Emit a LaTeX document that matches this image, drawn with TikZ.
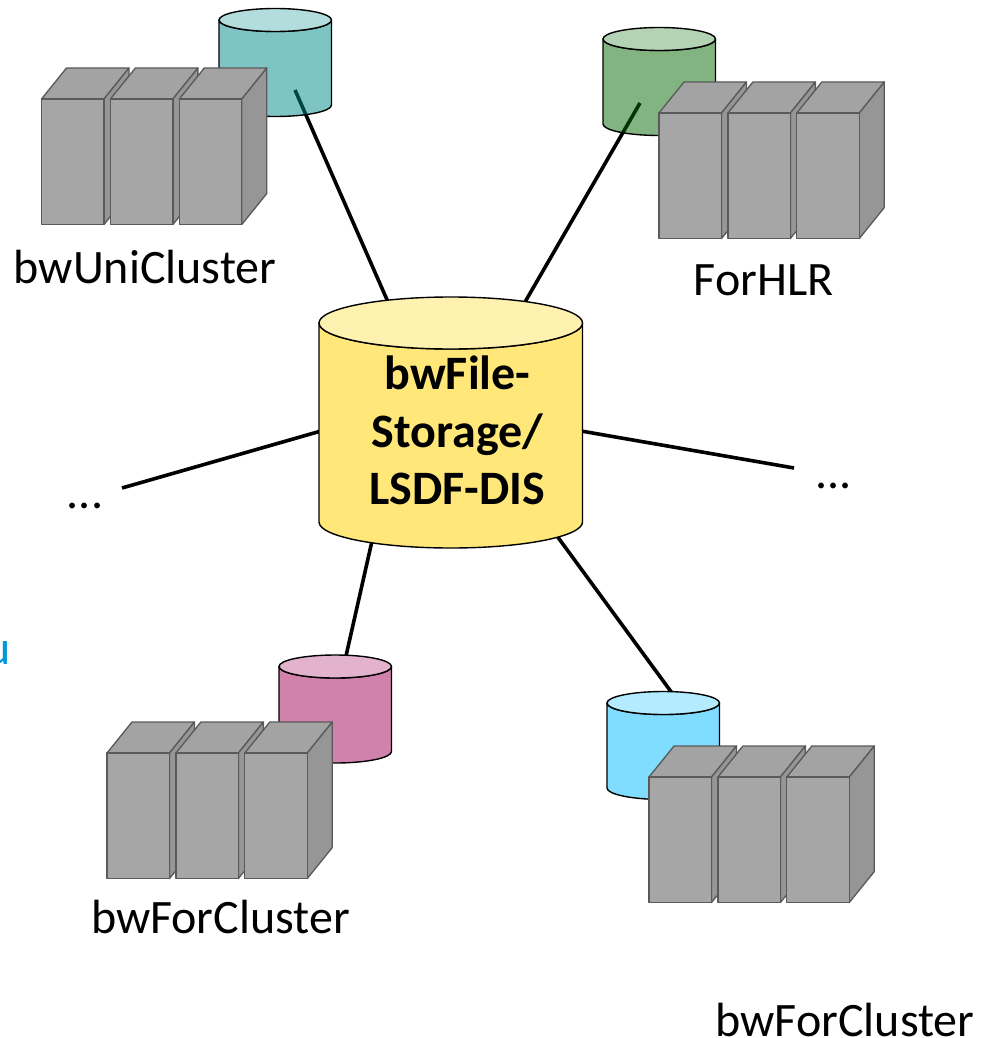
\documentclass[tikz,border=0pt]{standalone}
\usepackage{fontspec}
\setmainfont{Carlito}
\definecolor{srvfront}{HTML}{A6A6A6}
\definecolor{srvtop}{HTML}{A3A3A3}
\definecolor{srvside}{HTML}{969696}
\definecolor{srvline}{HTML}{5A5A5A}
\definecolor{linkblue}{HTML}{0098DB}
\definecolor{tealbase}{HTML}{008A8A}
\definecolor{greenbase}{HTML}{056A05}
\definecolor{pinkc}{HTML}{D081AC}
\definecolor{pinkt}{HTML}{E3B3CE}
\definecolor{bluec}{HTML}{80DDFF}
\definecolor{bluet}{HTML}{B3EBFF}
\definecolor{yelc}{HTML}{FFE779}
\definecolor{yelt}{HTML}{FFF1AF}
\definecolor{tealt}{HTML}{B3DCDC}
\definecolor{greent}{HTML}{B4D2B4}
\tikzset{
  srvface/.style={draw=srvline,line width=1pt,line join=round},
  cylface/.style={draw=black,line width=1.05pt,line join=round},
  link/.style={draw=black,line width=2.7pt},
  lbl/.style={font=\fontsize{36}{43}\selectfont,anchor=base,inner sep=0pt,text=black},
  hublbl/.style={font=\fontsize{36}{43.1}\selectfont\bfseries,align=center,inner sep=0pt,text=black}
}
% one rack: left x, top y of its front face
\newcommand{\rackbox}[1]{%
  \begin{scope}[shift={(#1,0)}]
    \path[srvface,fill=srvtop] (0,0) -- (25,-31) -- (87.5,-31) -- (62.5,0) -- cycle;
    \path[srvface,fill=srvside] (62.5,0) -- (87.5,-31) -- (87.5,94.5) -- (62.5,125.5) -- cycle;
    \path[srvface,fill=srvfront] (0,0) rectangle (62.5,125.5);
  \end{scope}}
\newcommand{\rackrow}[2]{%
  \begin{scope}[shift={(#1,#2)}]
    \rackbox{0}\rackbox{68.9}\rackbox{137.8}
  \end{scope}}
% cylinder: left, ellipse centre y, width, body height, ry, body colour, body opacity, top colour
\newcommand{\drum}[8]{%
  \begin{scope}[shift={(#1,#2)}]
    \path[cylface,fill=#6,fill opacity=#7] (0,0) -- (0,#4)
      arc[start angle=180,end angle=0,x radius=#3/2,y radius=#5] -- (#3,0)
      arc[start angle=0,end angle=180,x radius=#3/2,y radius=#5] -- cycle;
    \path[cylface,fill=#8] (#3/2,0) ellipse[x radius=#3/2,y radius=#5];
  \end{scope}}
\begin{document}
\begin{tikzpicture}[x=0.75pt,y=-0.75pt]
\useasboundingbox (0,0) rectangle (986,1038);
% connector ends
\coordinate (tealin) at (295,90);
\coordinate (hubtl) at (388,302);
\coordinate (greenin) at (640,103);
\coordinate (hubtr) at (525,302);
\coordinate (dotsl) at (122,488);
\coordinate (hubl) at (321,431);
\coordinate (dotsr) at (794,468);
\coordinate (hubr) at (581,431);
\coordinate (pinktop) at (346,656);
\coordinate (hubbl) at (372,541);
\coordinate (bluetop) at (672,693);
\coordinate (hubbr) at (557,536);
% connectors lie under the drums
\draw[link] (tealin) -- (hubtl);
\draw[link] (greenin) -- (hubtr);
\draw[link] (dotsl) -- (hubl);
\draw[link] (dotsr) -- (hubr);
\draw[link] (pinktop) -- (hubbl);
\draw[link] (bluetop) -- (hubbr);
% drums
\drum{219}{20}{112.5}{85}{11.5}{tealbase}{0.5}{tealt}
\drum{603}{39}{112.5}{85}{11.5}{greenbase}{0.5}{greent}
\drum{279}{666.5}{112.5}{85}{11.5}{pinkc}{1}{pinkt}
\drum{607}{703}{112.5}{85}{11.5}{bluec}{1}{bluet}
\drum{319}{323}{263.5}{199}{26}{yelc}{1}{yelt}
% racks
\rackrow{41.5}{99}
\rackrow{659}{113}
\rackrow{107}{753}
\rackrow{649}{777}
% labels
\node[lbl] (uni) at (145,283.5) {bwUniCluster};
\node[lbl] (hlr) at (763.5,295.5) {ForHLR};
\node[lbl] (for1) at (220.5,933.5) {bwForCluster};
\node[lbl] (for2) at (845,1036.5) {bwForCluster};
\node[lbl] (ldots) at (85,508) {...};
\node[lbl] (rdots) at (833.5,488) {...};
\node[lbl,text=linkblue,anchor=base east] (frag) at (11,664) {u};
\node[hublbl] (hub) at (457.5,430.5) {bwFile-\\Storage/\\LSDF-DIS};
\end{tikzpicture}
\end{document}
